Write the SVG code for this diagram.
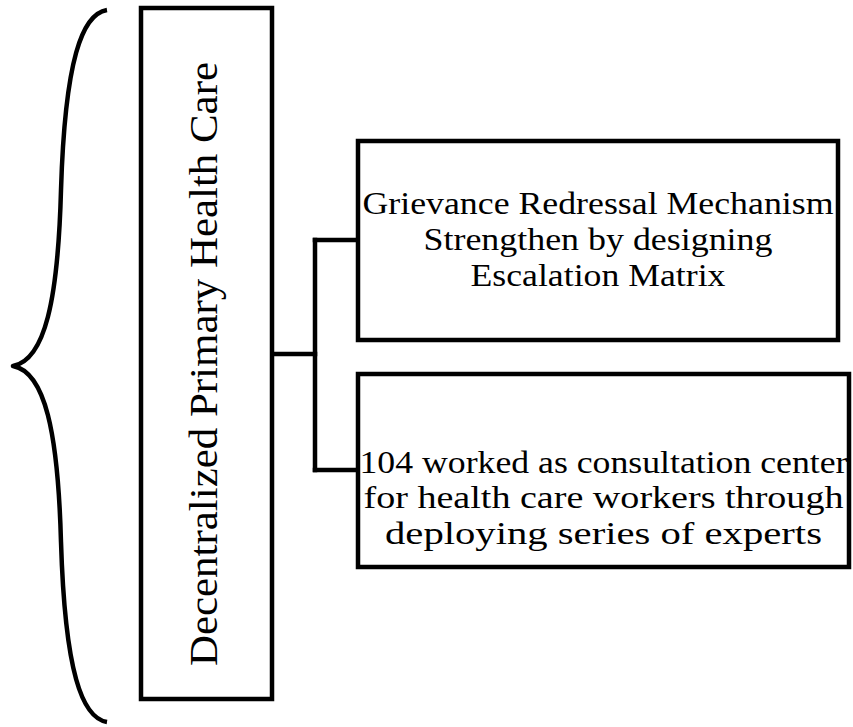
<svg xmlns="http://www.w3.org/2000/svg" width="853" height="727" viewBox="0 0 853 727">
<style>
.box{fill:#fff;stroke:#000;stroke-width:4.5;stroke-linejoin:miter}
.ln{fill:none;stroke:#000;stroke-width:4.5;stroke-linecap:square}
.br{fill:none;stroke:#000;stroke-width:4.5;stroke-linecap:butt;stroke-linejoin:round}
.t{font-family:"Liberation Serif","Times New Roman",serif;font-size:31px;fill:#000;text-anchor:middle}
.tv{font-family:"Liberation Serif","Times New Roman",serif;font-size:41px;fill:#000;text-anchor:middle}
</style>
<rect width="853" height="727" fill="#fff"/>
<g id="brace">
<path class="br" d="M107,10 C82,14 65,60 61,190 C58,300 45,360 13,366 C45,372 58,432 61,542 C65,672 82,718 107,722"/>
</g>
<g id="connectors">
<path class="ln" d="M272,354 L315,354"/>
<path class="ln" d="M315,240 L315,470"/>
<path class="ln" d="M315,240 L358,240"/>
<path class="ln" d="M315,470 L358,470"/>
</g>
<g id="node-main">
<rect class="box" x="141" y="8" width="131" height="691"/>
<text class="tv" transform="translate(217,364) rotate(-90)" textLength="604" lengthAdjust="spacingAndGlyphs">Decentralized Primary Health Care</text>
</g>
<g id="node-grievance">
<rect class="box" x="358" y="141" width="480" height="199"/>
<text class="t" x="598" y="214" textLength="471" lengthAdjust="spacingAndGlyphs">Grievance Redressal Mechanism</text>
<text class="t" x="598" y="250" textLength="349" lengthAdjust="spacingAndGlyphs">Strengthen by designing</text>
<text class="t" x="598" y="286" textLength="255" lengthAdjust="spacingAndGlyphs">Escalation Matrix</text>
</g>
<g id="node-104">
<rect class="box" x="358" y="374" width="491" height="193"/>
<text class="t" x="603.5" y="473" textLength="488" lengthAdjust="spacingAndGlyphs">104 worked as consultation center</text>
<text class="t" x="603.5" y="508" textLength="480" lengthAdjust="spacingAndGlyphs">for health care workers through</text>
<text class="t" x="603.5" y="544" textLength="437" lengthAdjust="spacingAndGlyphs">deploying series of experts</text>
</g>
</svg>
